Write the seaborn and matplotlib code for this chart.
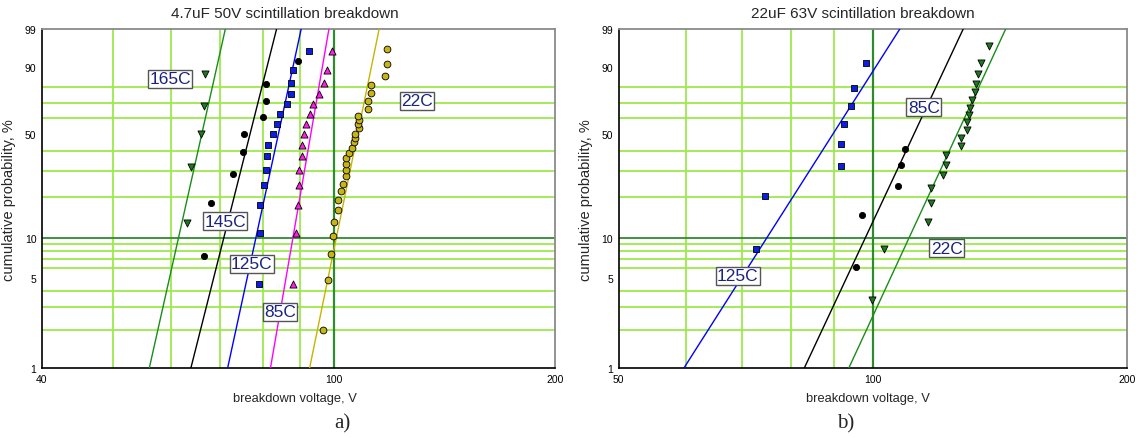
import numpy as np
import matplotlib
matplotlib.use('Agg')
import matplotlib.pyplot as plt
from matplotlib.ticker import NullFormatter
import seaborn as sns

# ---- panel a) 4.7uF 50V : breakdown voltage (V) and cumulative probability (%)
a165_v = [63.0, 63.9, 65.9, 66.5, 66.8]
a165_p = [13.0, 31.5, 50.0, 68.5, 87.0]
a145_v = [66.5, 67.9, 72.9, 75.1, 75.4, 80.1, 80.7, 80.8, 89.2]
a145_p = [7.4, 18.1, 28.7, 39.4, 50.0, 60.6, 71.3, 81.9, 92.6]
a125_v = [78.9, 79.2, 79.3, 80.3, 80.7, 81.1, 81.3, 82.6, 83.7, 84.4, 86.2,
          87.3, 87.4, 87.8, 92.3]
a125_p = [4.5, 11.0, 17.5, 24.0, 30.5, 37.0, 43.5, 50.0, 56.5, 63.0, 69.5,
          76.0, 82.5, 89.0, 95.5]
a85_v = [87.8, 88.7, 89.3, 89.5, 89.7, 90.3, 90.5, 90.9, 91.6, 92.7, 93.7,
         95.5, 97.0, 97.9, 99.3]
a85_p = [4.5, 11.0, 17.5, 24.0, 30.5, 37.0, 43.5, 50.0, 56.5, 63.0, 69.5,
         76.0, 82.5, 89.0, 95.5]
a22_v = [96.5, 98.0, 99.1, 99.7, 100.0, 101.1, 101.1, 102.1, 103.0, 103.8,
         103.8, 103.8, 103.8, 104.8, 105.8, 106.5, 106.8, 106.8, 108.0, 107.7,
         108.0, 107.7, 111.3, 111.3, 112.2, 112.2, 117.2, 118.1, 118.0]
a22_p = [2.0, 4.8, 7.6, 10.4, 13.2, 16.1, 18.9, 21.8, 24.6, 27.7,
         30.3, 33.1, 36.1, 38.8, 41.5, 44.9, 47.4, 49.9, 53.5, 56.1,
         58.7, 61.4, 66.4, 71.3, 76.4, 81.3, 86.1, 91.2, 96.0]

# fitted lines: voltage at 1 % and at 99 %
a_fit = {'165C': (56.0, 71.1), '145C': (63.8, 83.5), '125C': (71.6, 90.2),
         '85C': (81.9, 98.4), '22C': (92.6, 115.2)}

# ---- panel b) 22uF 63V
b125_v = [72.7, 74.5, 91.7, 91.7, 92.5, 94.2, 95.0, 98.2]
b125_p = [8.3, 20.2, 32.1, 44.0, 56.0, 67.9, 79.8, 91.7]
b85_v = [95.4, 97.1, 107.1, 107.9, 109.1]
b85_p = [6.1, 14.9, 23.7, 32.5, 41.2]
b22_v = [99.8, 103.1, 116.1, 117.1, 117.1, 121.0, 122.1, 122.1, 127.2, 127.2,
         129.2, 129.3, 130.1, 130.2, 131.1, 132.0, 132.3, 133.2, 134.1, 137.2]
b22_p = [3.4, 8.3, 13.2, 18.1, 23.0, 27.9, 32.8, 37.7, 42.6, 47.5,
         52.5, 57.4, 62.3, 67.2, 72.1, 77.0, 81.9, 86.8, 91.7, 96.6]

b_fit = {'125C': (59.7, 107.6), '85C': (82.9, 127.9), '22C': (93.6, 143.6)}

fit_p = [1, 99]
y_ticks = [1, 5, 10, 50, 90, 99]
y_grid = [2, 3, 4, 5, 6, 7, 8, 9, 20, 30, 40, 50, 60, 70, 80, 90]

LIGHT = '#9de84c'
DARK = '#2e8b2e'
TXT = '#1a237e'


def weib(p):
    p = np.clip(np.asarray(p, dtype=float), 1e-6, 100 - 1e-6)
    return np.log(-np.log(1 - p / 100.0))


def weib_inv(w):
    return 100.0 * (1 - np.exp(-np.exp(w)))


def setup_axes(ax, xlim, xticks, x_grid, title, letter, title_x, xlab_x, let_x):
    ax.set_xscale('log')
    ax.set_yscale('function', functions=(weib, weib_inv))
    ax.set_xlim(*xlim)
    ax.set_ylim(1, 99)
    ax.set_xticks(xticks)
    ax.set_xticklabels([str(t) for t in xticks])
    ax.set_xticks(x_grid, minor=True)
    ax.xaxis.set_minor_formatter(NullFormatter())
    ax.set_yticks(y_ticks)
    ax.set_yticklabels([str(t) for t in y_ticks])
    ax.set_yticks(y_grid, minor=True)
    ax.yaxis.set_minor_formatter(NullFormatter())
    ax.grid(False)
    ax.grid(True, which='minor', color=LIGHT, lw=1.3, zorder=0)
    ax.axhline(10, color=DARK, lw=1.3, zorder=1)
    ax.axvline(100, color=DARK, lw=1.6, zorder=1)
    ax.tick_params(which='minor', length=0)
    ax.tick_params(which='major', length=3, width=0.8, labelsize=7.5, pad=1,
                   colors='black')
    for s in ['left', 'bottom']:
        ax.spines[s].set_color('black')
        ax.spines[s].set_linewidth(1.2)
    for s in ['top', 'right']:
        ax.spines[s].set_visible(True)
        ax.spines[s].set_color('#8a8a8a')
        ax.spines[s].set_linewidth(1.3)
    ax.set_xlabel('breakdown voltage, V', fontsize=9.3)
    ax.xaxis.set_label_coords(xlab_x, -0.07)
    ax.set_ylabel('cumulative probability, %', fontsize=10.5)
    ax.yaxis.set_label_coords(-0.05, 0.5)
    ax.text(title_x, 1.047, title, transform=ax.transAxes, ha='center',
            va='center', fontsize=11)
    ax.text(let_x, -0.161, letter, transform=ax.transAxes, ha='center',
            va='center', fontsize=15, family=['Liberation Serif', 'DejaVu Serif'])


def series(ax, v, p, fit, marker, face, size, line_color):
    sns.lineplot(x=list(fit), y=fit_p, ax=ax, color=line_color, lw=1.0,
                 sort=False, estimator=None, zorder=3)
    sns.scatterplot(x=v, y=p, ax=ax, marker=marker, s=size, color=face,
                    edgecolor='black', linewidth=0.6, zorder=4, legend=False)


def tag(ax, x, y, s):
    ax.text(x, y, s, transform=ax.transAxes, ha='center', va='center',
            fontsize=12.5, color=TXT, zorder=6,
            bbox=dict(boxstyle='square,pad=0.08', fc='white', ec='#555555', lw=1.0))


sns.set_style('white')
plt.rcParams['font.family'] = ['Liberation Sans', 'DejaVu Sans']

fig = plt.figure(figsize=(11.38, 4.39), dpi=100)
ax1 = fig.add_axes([0.0369, 0.1588, 0.4508, 0.7729])
ax2 = fig.add_axes([0.5437, 0.1588, 0.4468, 0.7729])

# panel a
series(ax1, a165_v, a165_p, a_fit['165C'], 'v', '#1e7a1e', 26, '#1a8c1a')
series(ax1, a145_v, a145_p, a_fit['145C'], 'o', 'black', 20, 'black')
series(ax1, a125_v, a125_p, a_fit['125C'], 's', '#0a1ee6', 24, '#0000ff')
series(ax1, a85_v, a85_p, a_fit['85C'], '^', '#ff1ee6', 26, '#ff00ff')
series(ax1, a22_v, a22_p, a_fit['22C'], 'o', '#c8b414', 24, '#c8b400')
setup_axes(ax1, (40, 200), [40, 100, 200], [50, 60, 70, 80, 90],
           '4.7uF 50V scintillation breakdown', 'a)', 0.474, 0.493, 0.585)
tag(ax1, 0.250, 0.853, '165C')
tag(ax1, 0.357, 0.434, '145C')
tag(ax1, 0.409, 0.308, '125C')
tag(ax1, 0.464, 0.166, '85C')
tag(ax1, 0.731, 0.788, '22C')

# panel b
series(ax2, b125_v, b125_p, b_fit['125C'], 's', '#0a1ee6', 24, '#0000ff')
series(ax2, b85_v, b85_p, b_fit['85C'], 'o', 'black', 20, 'black')
series(ax2, b22_v, b22_p, b_fit['22C'], 'v', '#1e7a1e', 26, '#1a8c1a')
setup_axes(ax2, (50, 200), [50, 100, 200], [60, 70, 80, 90],
           '22uF 63V scintillation breakdown', 'b)', 0.481, 0.491, 0.446)
tag(ax2, 0.600, 0.770, '85C')
tag(ax2, 0.234, 0.272, '125C')
tag(ax2, 0.645, 0.354, '22C')

fig.savefig('out.png', dpi=100, facecolor='white')
